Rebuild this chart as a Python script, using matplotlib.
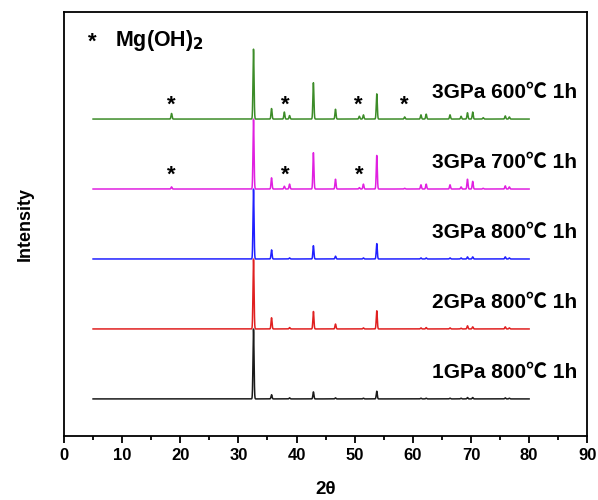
import matplotlib.pyplot as plt
import numpy as np

plt.rcParams['font.family'] = ['Liberation Sans', 'Noto Sans CJK SC', 'DejaVu Sans']
plt.rcParams['font.weight'] = 'bold'

# peak positions (2theta)
peak_pos = [18.5, 32.6, 35.7, 37.9, 38.8, 42.9, 46.7, 50.8, 51.5, 53.8, 58.6,
            61.4, 62.3, 66.4, 68.3, 69.4, 70.3, 72.1, 75.9, 76.6]

# relative heights for each sample (main peak = 1)
h_1gpa_800 = [0.0, 1.0, 0.06, 0.0, 0.015, 0.10, 0.015, 0.0, 0.01, 0.11, 0.0,
              0.01, 0.01, 0.01, 0.01, 0.02, 0.02, 0.0, 0.015, 0.01]
h_2gpa_800 = [0.0, 1.0, 0.16, 0.0, 0.02, 0.25, 0.07, 0.0, 0.015, 0.26, 0.0,
              0.015, 0.02, 0.015, 0.01, 0.045, 0.03, 0.0, 0.03, 0.015]
h_3gpa_800 = [0.0, 1.0, 0.13, 0.0, 0.015, 0.19, 0.04, 0.0, 0.015, 0.22, 0.0,
              0.015, 0.015, 0.015, 0.015, 0.03, 0.03, 0.0, 0.03, 0.015]
h_3gpa_700 = [0.03, 1.0, 0.16, 0.04, 0.07, 0.52, 0.14, 0.02, 0.07, 0.48, 0.01,
              0.06, 0.07, 0.06, 0.03, 0.14, 0.11, 0.01, 0.045, 0.03]
h_3gpa_600 = [0.08, 1.0, 0.15, 0.10, 0.05, 0.52, 0.14, 0.04, 0.06, 0.36, 0.03,
              0.06, 0.07, 0.06, 0.04, 0.09, 0.10, 0.02, 0.045, 0.03]

labels = ['1GPa 800℃ 1h', '2GPa 800℃ 1h', '3GPa 800℃ 1h', '3GPa 700℃ 1h', '3GPa 600℃ 1h']
colors = ['#1a1a1a', '#e02020', '#2020ff', '#e020e0', '#3c8c28']
heights = [h_1gpa_800, h_2gpa_800, h_3gpa_800, h_3gpa_700, h_3gpa_600]

# Mg(OH)2 markers: (2theta, sample index)
star_x = [18.5, 38.0, 50.6, 58.5, 18.5, 38.0, 50.8]
star_s = [4, 4, 4, 4, 3, 3, 3]

x = np.linspace(5, 80, 6000)


def pattern(h):
    y = np.zeros_like(x)
    for p, a in zip(peak_pos, h):
        y += a * np.exp(-0.5 * ((x - p) / 0.09) ** 2)
    return y


fig = plt.figure(figsize=(5.98, 5.0), dpi=100)
ax = fig.add_axes([0.107, 0.128, 0.875, 0.848])

for i, (h, c, lab) in enumerate(zip(heights, colors, labels)):
    ax.plot(x, pattern(h) + i, color=c, lw=1.1)
    ax.text(88.3, i + 0.38, lab, ha='right', va='center', fontsize=15,
            fontweight='bold')

for sx, si in zip(star_x, star_s):
    ax.text(sx, si + 0.2, '*', ha='center', va='center', fontsize=16,
            fontweight='bold')

ax.text(4.8, 5.1, '*', ha='center', va='center', fontsize=16, fontweight='bold')
ax.text(8.8, 5.12, r'Mg(OH)$_\mathbf{2}$', ha='left', va='center', fontsize=15.5,
        fontweight='bold')

ax.set_xlim(0, 90)
ax.set_ylim(-0.53, 5.53)
ax.set_xticks(range(0, 91, 10))
ax.set_xticks(range(5, 90, 10), minor=True)
ax.tick_params(axis='x', direction='out', length=5, width=1.3, labelsize=12)
ax.tick_params(axis='x', which='minor', direction='out', length=3, width=1.3)
ax.set_yticks([])
for sp in ax.spines.values():
    sp.set_linewidth(1.3)
for t in ax.get_xticklabels():
    t.set_fontweight('bold')

ax.set_xlabel('2θ', fontsize=13.5, fontweight='bold', labelpad=13)
ax.set_ylabel('Intensity', fontsize=13, fontweight='bold', labelpad=22)

fig.savefig('out.png', dpi=100)
